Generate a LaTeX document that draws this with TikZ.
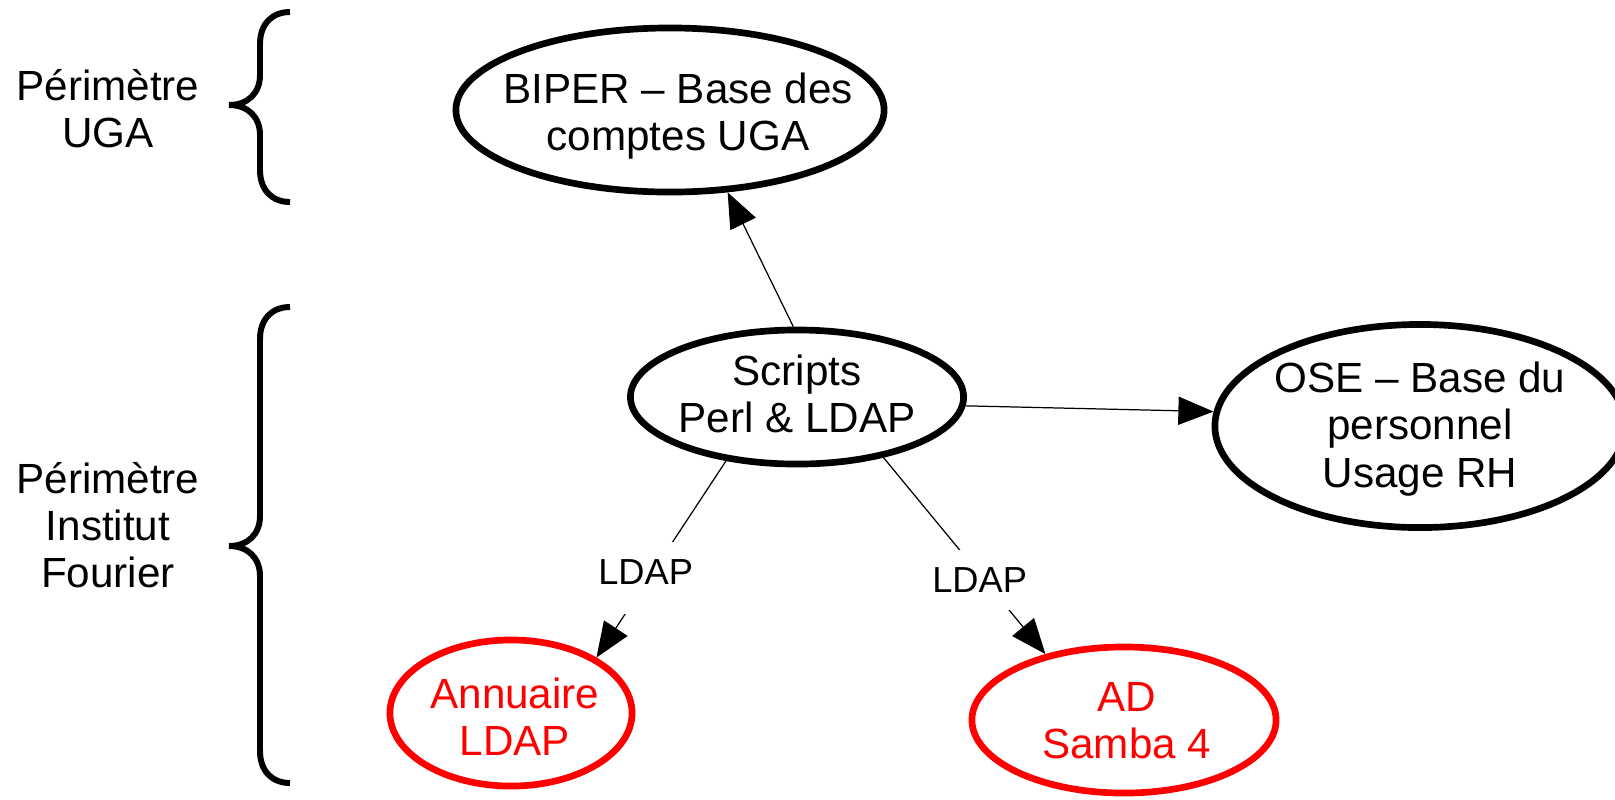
\documentclass[tikz,border=0pt]{standalone}
\usepackage{fontspec}
\setmainfont{Liberation Sans}
\usetikzlibrary{shapes.geometric,arrows.meta}
\def\accolade(#1:#2:#3){\draw[line width=1.7pt] (290,#1) .. controls (272,#1) and (260,#1+12) .. (260,#1+32) -- (260,#2-30) .. controls (260,#2-12) and (248,#2) .. (229,#2) .. controls (248,#2) and (260,#2+12) .. (260,#2+30) -- (260,#3-32) .. controls (260,#3-12) and (272,#3) .. (290,#3);}

\tikzset{
	base/.style={ellipse, draw, line width=1.9pt, inner sep=0pt},
	baseif/.style={base, draw=red},
	texte/.style={align=center, font=\fontsize{12}{13.4}\selectfont},
	lien/.style={-{Triangle[length=10pt,width=8pt]}, line width=0.35pt},
	etiq/.style={fill=white, inner xsep=4pt, inner ysep=5pt, font=\fontsize{10.3}{12}\selectfont}
}

\begin{document}
\begin{tikzpicture}[x=0.01cm, y=-0.01cm]
	%%%%% START %%%%%
	\useasboundingbox (0,0) rectangle (1615,799);
	
	\node[texte] (puga) at (108,109) {Périmètre\\UGA};
	\node[texte] (pif) at (108,525) {Périmètre\\Institut\\Fourier};
	\accolade(12:105:202)
	\accolade(307:546:783)
	
	\node[base, minimum width=4.28cm, minimum height=1.64cm,
		label={[texte, xshift=2.3pt, yshift=-1.7pt]center:{BIPER -- Base des\\comptes UGA}}] (biper) at (670,110) {};
	\node[base, minimum width=3.33cm, minimum height=1.34cm,
		label={[texte, yshift=0.9pt]center:{Scripts\\Perl \& LDAP}}] (scripts) at (797,397) {};
	\node[base, minimum width=4.10cm, minimum height=2.03cm,
		label={[texte, yshift=-0.85pt]center:{OSE -- Base du\\personnel\\Usage RH}}] (ose) at (1420,426) {};
	\node[baseif, minimum width=2.42cm, minimum height=1.46cm,
		label={[texte, text=red, xshift=1.1pt, yshift=-1.1pt]center:{Annuaire\\LDAP}}] (annuaire) at (511,713) {};
	\node[baseif, minimum width=3.04cm, minimum height=1.46cm,
		label={[texte, text=red, xshift=0.8pt, yshift=-0.3pt]center:{AD\\Samba 4}}] (ad) at (1124,720) {};
	
	\draw[lien] (scripts.93) -- (biper.305);
	\draw[lien] (scripts.-3) -- (ose.176);
	\draw[lien] (scripts.222) -- node[etiq, text depth=3.4pt, xshift=-0.9pt, pos=0.596] (ldapa) {LDAP} (annuaire.33);
	\draw[lien] (scripts.325) -- node[etiq, xshift=-1.4pt, pos=0.624] (ldapb) {LDAP} (ad.140);
	
	%%%%% END %%%%%
\end{tikzpicture}
\end{document}
